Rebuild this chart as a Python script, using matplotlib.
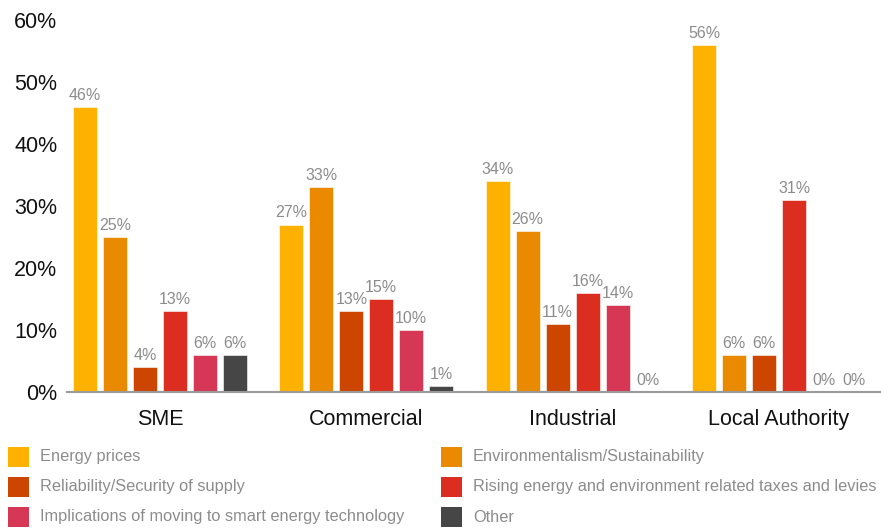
import matplotlib.pyplot as plt
from matplotlib.patches import Rectangle
import numpy as np

plt.rcParams['font.family'] = ['Liberation Sans', 'DejaVu Sans']

groups = ['SME', 'Commercial', 'Industrial', 'Local Authority']
series = ['Energy prices', 'Environmentalism/Sustainability',
          'Reliability/Security of supply',
          'Rising energy and environment related taxes and levies',
          'Implications of moving to smart energy technology', 'Other']
colors = ['#FFB100', '#E98A00', '#CC4600', '#DC2E20', '#D63754', '#464646']

# percent per group, one list per series
energy_prices = [46, 27, 34, 56]
environmentalism = [25, 33, 26, 6]
reliability = [4, 13, 11, 6]
rising_taxes = [13, 15, 16, 31]
smart_tech = [6, 10, 14, 0]
other = [6, 1, 0, 0]
values = [energy_prices, environmentalism, reliability, rising_taxes, smart_tech, other]

yticks = [0, 10, 20, 30, 40, 50, 60]

W, H = 881, 529
fig = plt.figure(figsize=(W / 100, H / 100), dpi=100)
ax = fig.add_axes([67 / W, 1 - 392 / H, (880 - 67) / W, (392 - 20) / H])

pitch = 30 / 206.5
bw = 24 / 206.5
x = np.arange(len(groups))
for j, (name, vals) in enumerate(zip(series, values)):
    pos = x + (j - 2.5) * pitch
    bars = ax.bar(pos, vals, width=bw, color=colors[j], edgecolor='white',
                  linewidth=0.4, zorder=2)
    for b, v in zip(bars, vals):
        ax.annotate('%d%%' % v, (b.get_x() + b.get_width() / 2, v),
                    xytext=(0, 3), textcoords='offset points',
                    ha='center', va='bottom', fontsize=11.5, color='#8c8c8c')

ax.set_xlim(-93 / 206.5, 3 + 101 / 206.5)
ax.set_ylim(0, 60)
ax.set_yticks(yticks)
ax.set_yticklabels(['%d%%' % t for t in yticks], fontsize=15.5, color='#111111')
ax.set_xticks(x)
ax.set_xticklabels(groups, fontsize=15.5, color='#111111')
ax.tick_params(axis='y', length=0, pad=7)
ax.tick_params(axis='x', length=0, pad=12)
for s in ['top', 'right', 'left']:
    ax.spines[s].set_visible(False)
ax.spines['bottom'].set_color('#9a9a9a')
ax.spines['bottom'].set_linewidth(1.5)

# legend, two columns, row-major
col_x = [8, 441]
row_y = [457, 487, 517]
for k, (name, c) in enumerate(zip(series, colors)):
    cx = col_x[k % 2]
    cy = row_y[k // 2]
    fig.add_artist(Rectangle((cx / W, 1 - (cy + 10) / H), 21 / W, 20 / H,
                             transform=fig.transFigure, facecolor=c,
                             edgecolor='none'))
    fig.text((cx + 32) / W, 1 - cy / H, name, fontsize=11.8, color='#8c8c8c',
             ha='left', va='center')

fig.savefig('out.png', dpi=100)
